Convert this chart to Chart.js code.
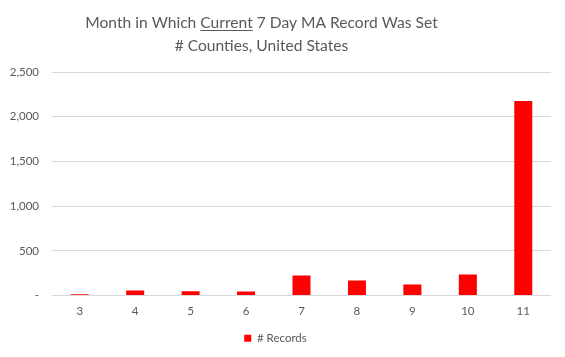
<!DOCTYPE html>
<html>
<head>
<meta charset="utf-8">
<script src="https://cdn.jsdelivr.net/npm/chart.js@4"></script>
<style>
html,body{margin:0;padding:0;background:#fff;}
#wrap{width:565px;height:357px;position:relative;}
</style>
</head>
<body>
<div id="wrap"><canvas id="c" width="565" height="357"></canvas></div>
<script>
const categories = ['3', '4', '5', '6', '7', '8', '9', '10', '11'];
const records = [15, 56, 47, 45, 224, 168, 123, 235, 2177];
const seriesName = '# Records';
const yTickValues = [0, 500, 1000, 1500, 2000, 2500];
const yTickLabels = ['-', '500', '1,000', '1,500', '2,000', '2,500'];
const titleLine1Parts = ['Month in Which ', 'Current', ' 7 Day MA Record Was Set'];
const titleLine2 = '# Counties, United States';

const FONT = 'Lato, "Open Sans", sans-serif';
const TEXT = '#595959';

const titlePlugin = {
  id: 'customTitle',
  afterDraw(chart) {
    const ctx = chart.ctx;
    ctx.save();
    ctx.font = '15.6px ' + FONT;
    ctx.fillStyle = TEXT;
    ctx.textBaseline = 'alphabetic';
    const full = titleLine1Parts.join('');
    const cx = 261.5;
    const w = ctx.measureText(full).width;
    const x0 = cx - w / 2;
    ctx.textAlign = 'left';
    ctx.fillText(full, x0, 28);
    const pre = ctx.measureText(titleLine1Parts[0]).width;
    const uw = ctx.measureText(titleLine1Parts[1]).width;
    ctx.strokeStyle = TEXT;
    ctx.lineWidth = 1;
    ctx.beginPath();
    ctx.moveTo(x0 + pre, 30.5);
    ctx.lineTo(x0 + pre + uw, 30.5);
    ctx.stroke();
    ctx.textAlign = 'center';
    ctx.fillText(titleLine2, cx, 51);
    ctx.restore();
  }
};

new Chart(document.getElementById('c'), {
  type: 'bar',
  data: {
    labels: categories,
    datasets: [{
      label: seriesName,
      data: records,
      backgroundColor: '#ff0000',
      borderWidth: 0,
      barPercentage: 0.325,
      categoryPercentage: 1
    }]
  },
  options: {
    responsive: false,
    animation: false,
    devicePixelRatio: 1,
    layout: { padding: { top: 72, right: 14, left: 0, bottom: 3 } },
    plugins: {
      title: { display: false },
      tooltip: { enabled: false },
      legend: {
        position: 'bottom',
        labels: {
          boxWidth: 7, boxHeight: 7, padding: 6,
          color: TEXT,
          font: { family: FONT, size: 11.5 }
        }
      }
    },
    scales: {
      x: {
        grid: { display: false, drawTicks: false },
        border: { display: false },
        ticks: { color: TEXT, font: { family: FONT, size: 11.5 }, padding: 9 },
        afterFit(s) { s.height = 31; }
      },
      y: {
        min: 0, max: 2500,
        afterBuildTicks(s) { s.ticks = yTickValues.map(v => ({ value: v })); },
        grid: { color: '#d9d9d9', lineWidth: 1, drawTicks: false },
        border: { display: false },
        ticks: {
          color: TEXT,
          font: { family: FONT, size: 11.5 },
          padding: 13,
          callback: (v, i) => yTickLabels[i]
        },
        afterFit(s) { s.width = 52; }
      }
    }
  },
  plugins: [titlePlugin]
});
</script>
</body>
</html>
